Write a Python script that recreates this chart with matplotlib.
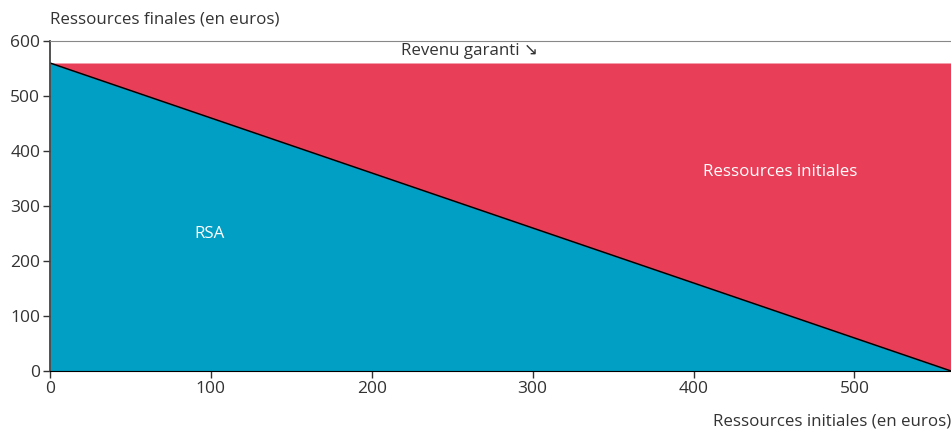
import numpy as np
import matplotlib
matplotlib.use("Agg")
from matplotlib import pyplot as plt

plt.rcParams['font.family'] = ['Open Sans', 'DejaVu Sans']

# data
revenu_garanti = 560
x_vals = [0, 560]
rsa_vals = [560, 0]
x_ticks = [0, 100, 200, 300, 400, 500]
y_ticks = [0, 100, 200, 300, 400, 500, 600]

blue = "#019fc4"
red = "#e83e57"
txt = "#333333"
fs = 12.2

fig = plt.figure(figsize=(9.51, 4.30), dpi=100)
ax = fig.add_axes([50 / 951, 1 - 371 / 430, 1 - 50 / 951, (371 - 41) / 430])

x = np.array(x_vals)
rsa = np.array(rsa_vals)
ax.fill_between(x, 0, rsa, color=blue, linewidth=0)
ax.fill_between(x, rsa, revenu_garanti, color=red, linewidth=0)
ax.plot(x, rsa, color="black", linewidth=1.1)

ax.set_xlim(0, 560)
ax.set_ylim(0, 600)
ax.set_xticks(x_ticks)
ax.set_yticks(y_ticks)
ax.tick_params(labelsize=12.5, colors=txt, length=5, width=1, pad=2)

ax.spines['right'].set_visible(False)
ax.spines['top'].set_color("#888888")
ax.spines['left'].set_color("#444444")
ax.spines['left'].set_linewidth(1.3)
ax.spines['bottom'].set_color("black")

ax.text(99, 250, "RSA", color="white", fontsize=fs, ha="center", va="center")
ax.text(454, 361, "Ressources initiales", color="white", fontsize=fs,
        ha="center", va="center")
ax.text(261, 581, "Revenu garanti \u2198", color=txt, fontsize=fs,
        ha="center", va="center")

fig.text(50 / 951, 1 - 19 / 430, "Ressources finales (en euros)", color=txt,
         fontsize=fs, ha="left", va="center")
fig.text(1.0, 1 - 422 / 430, "Ressources initiales (en euros)", color=txt,
         fontsize=fs, ha="right", va="center")

fig.savefig("out.png", dpi=100)
